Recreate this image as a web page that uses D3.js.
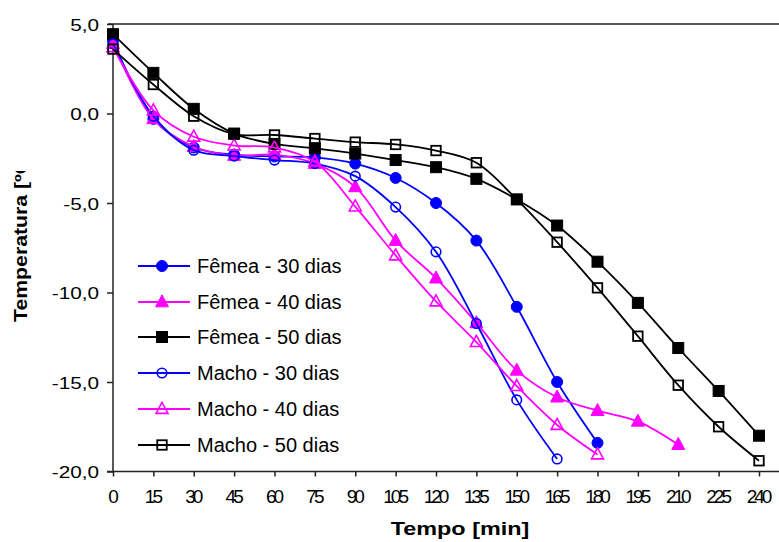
<!DOCTYPE html>
<html><head><meta charset="utf-8">
<script src="https://cdn.jsdelivr.net/npm/d3@7"></script>
<style>
html,body{margin:0;padding:0;background:#fff;}
svg{display:block;}
text{font-family:"Liberation Sans",Arial,sans-serif;fill:#000;}
</style></head>
<body>
<svg id="chart" width="779" height="542"></svg>
<script>
// ---- data ----
const times = [0,15,30,45,60,75,90,105,120,135,150,165,180,195,210,225,240];
const femea30 = [4.1,-0.3,-1.9,-2.3,-2.4,-2.45,-2.8,-3.6,-5.0,-7.1,-10.8,-15.0,-18.4];
const femea40 = [3.9,-0.3,-1.85,-2.35,-2.3,-2.8,-4.1,-7.1,-9.2,-11.7,-14.35,-15.85,-16.6,-17.2,-18.5];
const femea50 = [4.43,2.27,0.26,-1.12,-1.7,-1.95,-2.24,-2.6,-3.0,-3.65,-4.8,-6.26,-8.28,-10.58,-13.1,-15.5,-18.0];
const macho30 = [3.9,-0.15,-2.05,-2.38,-2.6,-2.8,-3.5,-5.23,-7.73,-11.73,-16.0,-19.3];
const macho40 = [3.7,0.17,-1.3,-1.79,-1.9,-2.7,-5.2,-7.93,-10.5,-12.77,-15.23,-17.4,-19.05];
const macho50 = [3.6,1.62,-0.15,-1.15,-1.2,-1.4,-1.6,-1.73,-2.07,-2.75,-4.8,-7.19,-9.74,-12.44,-15.18,-17.5,-19.4];
const seriesNames = ["Fêmea - 30 dias","Fêmea - 40 dias","Fêmea - 50 dias","Macho - 30 dias","Macho - 40 dias","Macho - 50 dias"];
const seriesColors = ["#0000ff","#ff00ff","#000000","#0000ff","#ff00ff","#000000"];
const seriesMarkers = ["circle","triangle","square","circle","triangle","square"];
const seriesFilled = [true,true,true,false,false,false];
const yTicks = [5,0,-5,-10,-15,-20];
const yTickLabels = ["5,0","0,0","-5,0","-10,0","-15,0","-20,0"];
const xTicks = [0,15,30,45,60,75,90,105,120,135,150,165,180,195,210,225,240];
const xTitle = "Tempo [min]";
const yTitle = "Temperatura [ºC]";

const seriesValues = [femea30,femea40,femea50,macho30,macho40,macho50];

// ---- layout ----
const svg = d3.select("#chart");
const x = d3.scaleLinear().domain([0,240]).range([113,759]);
const y = d3.scaleLinear().domain([-20,5]).range([471.5,24]);

function stretch(sel,f){
  sel.each(function(){
    const l=this.getComputedTextLength();
    this.setAttribute("textLength", l*f);
    this.setAttribute("lengthAdjust","spacingAndGlyphs");
  });
}

// top border line
svg.append("line").attr("x1",108).attr("x2",779).attr("y1",y(5)).attr("y2",y(5))
  .attr("stroke","#5a5a5a").attr("stroke-width",2);

// y axis
const yAxis = svg.append("g").attr("transform","translate(113,0)")
  .call(d3.axisLeft(y).tickValues(yTicks).tickSize(6).tickPadding(8)
    .tickFormat((d,i)=>yTickLabels[i]));
yAxis.select(".domain").attr("stroke","#222").attr("stroke-width",1.5).attr("d","M0,"+y(5)+"V"+y(-20));
yAxis.selectAll(".tick line").attr("stroke","#222").attr("stroke-width",1.5);
yAxis.selectAll("text").style("font-size","17px").style("font-family","Liberation Sans, Arial, sans-serif")
  .attr("fill","#000").attr("dy","0.36em");
stretch(yAxis.selectAll("text"),1.22);

// x axis
const xAxis = svg.append("g").attr("transform","translate(0,"+y(-20)+")")
  .call(d3.axisBottom(x).tickValues(xTicks).tickSize(5).tickPadding(13).tickFormat(d=>String(d)));
xAxis.select(".domain").attr("stroke","#222").attr("stroke-width",1.5).attr("d","M107,0H779");
xAxis.selectAll(".tick line").attr("stroke","#222").attr("stroke-width",1.5);
xAxis.selectAll("text").style("font-size","19px").style("font-family","Liberation Sans, Arial, sans-serif")
  .style("letter-spacing","-3px").attr("fill","#000").attr("dx","-1.5px");

// axis titles
const xt = svg.append("text").attr("x",460).attr("y",535).attr("text-anchor","middle")
  .style("font-weight","bold").style("font-size","18px").text(xTitle);
stretch(xt,1.3);

svg.append("defs").append("clipPath").attr("id","ytclip")
  .append("rect").attr("x",0).attr("y",171).attr("width",60).attr("height",300);
const yt = svg.append("g").attr("clip-path","url(#ytclip)")
  .append("text").attr("transform","translate(27,322) rotate(-90)").attr("text-anchor","start")
  .style("font-weight","bold").style("font-size","18px").text(yTitle);
stretch(yt,1.18);

// marker drawing
function drawMarker(g, type, filled, color, cx, cy){
  if(type==="circle"){
    g.append("circle").attr("cx",cx).attr("cy",cy).attr("r",filled?5.5:4.8)
      .attr("fill",filled?color:"none").attr("stroke",color).attr("stroke-width",filled?1:1.6);
  } else if(type==="square"){
    const s = filled?11:9.5;
    g.append("rect").attr("x",cx-s/2).attr("y",cy-s/2).attr("width",s).attr("height",s)
      .attr("fill",filled?color:"none").attr("stroke",color).attr("stroke-width",filled?1:1.8);
  } else {
    const h = filled?12:11, w = filled?13:12;
    g.append("path").attr("d",`M${cx},${cy-h*0.6}L${cx+w/2},${cy+h*0.4}L${cx-w/2},${cy+h*0.4}Z`)
      .attr("fill",filled?color:"none").attr("stroke",color).attr("stroke-width",filled?1:1.6)
      .attr("stroke-linejoin","miter");
  }
}

// series
const line = d3.line().x(d=>x(d[0])).y(d=>y(d[1])).curve(d3.curveCatmullRom.alpha(0.5));
seriesValues.forEach((vals,i)=>{
  const pts = vals.map((v,j)=>[times[j],v]);
  const g = svg.append("g");
  g.append("path").attr("d",line(pts)).attr("fill","none")
    .attr("stroke",seriesColors[i]).attr("stroke-width",1.8);
  pts.forEach(p=>drawMarker(g,seriesMarkers[i],seriesFilled[i],seriesColors[i],x(p[0]),y(p[1])));
});

// legend
const legendY = [266,302,337,373,409,445];
seriesNames.forEach((name,i)=>{
  const g = svg.append("g");
  g.append("line").attr("x1",138).attr("x2",190).attr("y1",legendY[i]).attr("y2",legendY[i])
    .attr("stroke",seriesColors[i]).attr("stroke-width",1.8);
  drawMarker(g,seriesMarkers[i],seriesFilled[i],seriesColors[i],162,legendY[i]);
  g.append("text").attr("x",197).attr("y",legendY[i]+7).style("font-size","20px").text(name);
});
</script>
</body></html>
